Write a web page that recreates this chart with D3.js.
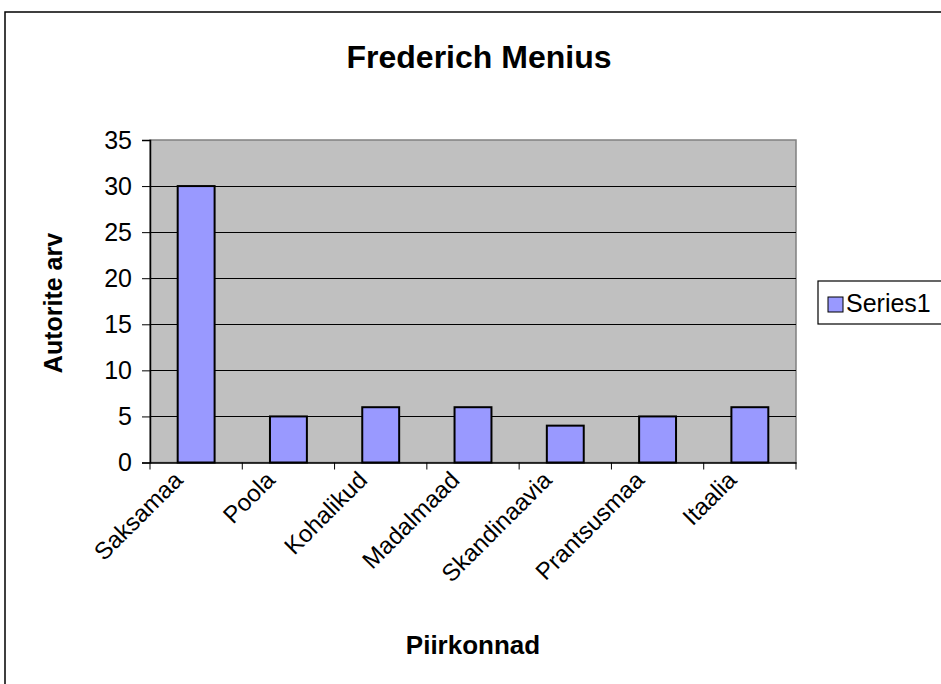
<!DOCTYPE html>
<html><head><meta charset="utf-8">
<script src="https://cdn.jsdelivr.net/npm/d3@7"></script>
<style>html,body{margin:0;padding:0;background:#fff;}svg{display:block;}</style>
</head><body>
<script>
const title = "Frederich Menius";
const categories = ["Saksamaa","Poola","Kohalikud","Madalmaad","Skandinaavia","Prantsusmaa","Itaalia"];
const values = [30,5,6,6,4,5,6];
const yTicks = [0,5,10,15,20,25,30,35];
const seriesName = "Series1";
const xTitle = "Piirkonnad";
const yTitle = "Autorite arv";

const W = 941, H = 684;
const svg = d3.select("body").append("svg").attr("width", W).attr("height", H);
const font = "Arial, 'Liberation Sans', sans-serif";

// outer chart border
svg.append("rect").attr("x",5).attr("y",12).attr("width",W).attr("height",H)
  .attr("fill","none").attr("stroke","#000").attr("stroke-width",1.5);

const L = 150, T = 140, R = 796, B = 462.5;
const x = d3.scaleBand().domain(categories).range([L,R]).paddingInner(0).paddingOuter(0);
const y = d3.scaleLinear().domain([0,35]).range([B,T]);

// plot area
svg.append("rect").attr("x",L).attr("y",T).attr("width",R-L).attr("height",B-T)
  .attr("fill","#C0C0C0").attr("stroke","#808080").attr("stroke-width",1.5);

// gridlines
svg.append("g").selectAll("line").data(yTicks.filter(d=>d>0 && d<35)).join("line")
  .attr("x1",L).attr("x2",R).attr("y1",d=>Math.round(y(d))+0.5).attr("y2",d=>Math.round(y(d))+0.5)
  .attr("stroke","#000").attr("stroke-width",1);

// bars
const bw = x.bandwidth()*0.4;
svg.append("g").selectAll("rect").data(values).join("rect")
  .attr("x",(d,i)=>x(categories[i])+x.bandwidth()/2-bw/2)
  .attr("y",d=>y(d)).attr("width",bw).attr("height",d=>B-y(d))
  .attr("fill","#9999FF").attr("stroke","#000").attr("stroke-width",2);

// y axis
const yAxis = svg.append("g").attr("transform",`translate(${L},0)`)
  .call(d3.axisLeft(y).tickValues(yTicks).tickSize(8).tickPadding(10));
yAxis.select(".domain").attr("stroke","#000").attr("stroke-width",1.5);
yAxis.selectAll(".tick line").attr("stroke","#000");
yAxis.selectAll(".tick text").attr("font-family",font).attr("font-size",25).attr("fill","#000");

// x axis
const xAxis = svg.append("g").attr("transform",`translate(0,${B})`)
  .call(d3.axisBottom(x).tickSize(0).tickFormat(""));
xAxis.select(".domain").attr("stroke","#000").attr("stroke-width",1.5);
const edges = d3.range(categories.length+1).map(i=>L + i*x.bandwidth());
svg.append("g").selectAll("line").data(edges).join("line")
  .attr("x1",d=>d).attr("x2",d=>d).attr("y1",B).attr("y2",B+7).attr("stroke","#000");

svg.append("g").selectAll("text").data(categories).join("text")
  .attr("transform",d=>`translate(${x(d)+x.bandwidth()/2-12},${B+19}) rotate(-45)`)
  .attr("text-anchor","end").attr("font-family",font).attr("font-size",24).attr("fill","#000")
  .text(d=>d);

// title
svg.append("text").attr("x",479).attr("y",68).attr("text-anchor","middle")
  .attr("font-family",font).attr("font-size",32).attr("font-weight","bold").text(title);

// axis titles
svg.append("text").attr("x",473).attr("y",654).attr("text-anchor","middle")
  .attr("font-family",font).attr("font-size",26).attr("font-weight","bold").text(xTitle);
svg.append("text").attr("transform",`translate(62,303) rotate(-90)`).attr("text-anchor","middle")
  .attr("font-family",font).attr("font-size",25).attr("font-weight","bold").text(yTitle);

// legend
const lg = svg.append("g");
lg.append("rect").attr("x",818).attr("y",281).attr("width",W).attr("height",43)
  .attr("fill","#fff").attr("stroke","#000").attr("stroke-width",1.2);
lg.append("rect").attr("x",828).attr("y",297).attr("width",15).attr("height",15)
  .attr("fill","#9999FF").attr("stroke","#000").attr("stroke-width",1);
lg.append("text").attr("x",846).attr("y",312).attr("font-family",font).attr("font-size",25).text(seriesName);
</script>
</body></html>
